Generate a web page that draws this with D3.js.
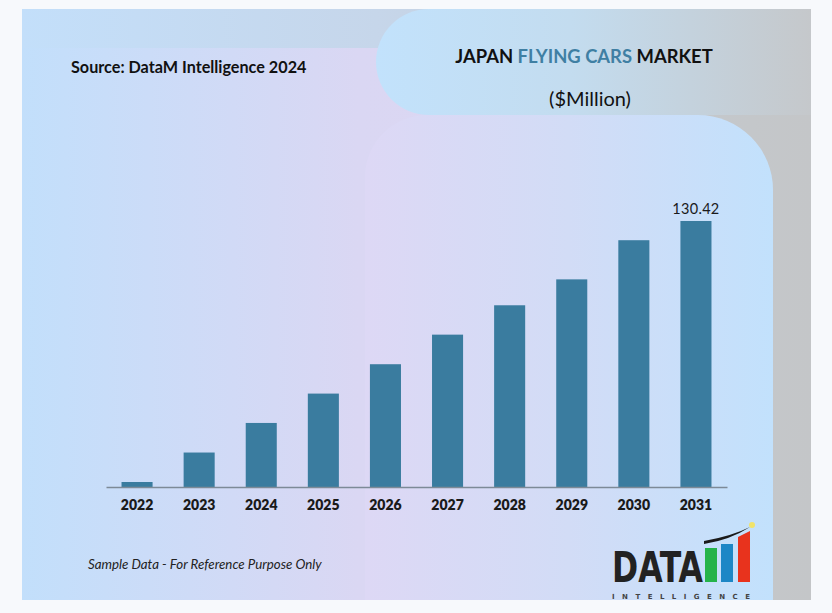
<!DOCTYPE html>
<html>
<head>
<meta charset="utf-8">
<script src="https://cdn.jsdelivr.net/npm/d3@7"></script>
<style>
  html, body { margin: 0; padding: 0; background: #f7f9fc; }
  svg { display: block; }
</style>
</head>
<body>
<svg id="chart" width="832" height="613"></svg>
<script>
const years = ["2022","2023","2024","2025","2026","2027","2028","2029","2030","2031"];
const marketValues = [2.45, 16.9, 31.4, 45.8, 60.2, 74.7, 89.1, 101.8, 121.0, 130.42];
const labeledYears = ["2031"];
const titleParts = [
  {text: "JAPAN ", color: "#111111"},
  {text: "FLYING CARS", color: "#3f7fa3"},
  {text: " MARKET", color: "#111111"}
];
const unitLabel = "($Million)";
const sourceLabel = "Source: DataM Intelligence 2024";
const noteLabel = "Sample Data - For Reference Purpose Only";

const svg = d3.select("#chart");
const defs = svg.append("defs");

function grad(id, stops, x1=0, y1=0, x2=1, y2=0) {
  const g = defs.append("linearGradient").attr("id", id)
    .attr("x1", x1).attr("y1", y1).attr("x2", x2).attr("y2", y2);
  stops.forEach(s => g.append("stop").attr("offset", s[0]).attr("stop-color", s[1]));
}
grad("panelG", [[0, "#c3dffa"], [0.45, "#c6d6ea"], [0.85, "#c4c8cc"], [1, "#c4c6c8"]]);
grad("lavG", [[0, "#c2dffb"], [0.6, "#dad7f3"], [1, "#ddd6f2"]]);
grad("titleG", [[0, "#c2e2fc"], [0.45, "#c3dcef"], [1, "#c5c8cb"]]);
grad("bigG", [[0, "#ddd8f5"], [0.5, "#d2dcf6"], [1, "#c2e1fc"]]);

// panel
svg.append("rect").attr("x", 22).attr("y", 9).attr("width", 789).attr("height", 591).attr("fill", "url(#panelG)");
// lavender backdrop
svg.append("rect").attr("x", 22).attr("y", 48).attr("width", 560).attr("height", 552).attr("fill", "url(#lavG)");

// title bubble (left rounded pill)
{
  const x0 = 376, x1 = 811, y0 = 9, y1 = 115, r = 53;
  const p = `M${x1},${y0} L${x0 + r},${y0} A${r},${r} 0 0 0 ${x0 + r},${y1} L${x1},${y1} Z`;
  svg.append("path").attr("d", p).attr("fill", "url(#titleG)");
}
// big bubble
{
  const x0 = 365, x1 = 773, y0 = 115, y1 = 600, rl = 62, rr = 75;
  const p = `M${x0},${y1} L${x0},${y0 + rl} A${rl},${rl} 0 0 1 ${x0 + rl},${y0} L${x1 - rr},${y0} A${rr},${rr} 0 0 1 ${x1},${y0 + rr} L${x1},${y1} Z`;
  svg.append("path").attr("d", p).attr("fill", "url(#bigG)");
}

// texts
svg.append("text").attr("x", 71).attr("y", 73)
  .attr("font-family", "Lato, sans-serif").attr("font-weight", 700).attr("font-size", 16.2)
  .attr("fill", "#111").text(sourceLabel);

const title = svg.append("text").attr("x", 584).attr("y", 63).attr("text-anchor", "middle")
  .attr("font-family", "Lato, sans-serif").attr("font-weight", 700).attr("font-size", 18.4);
titleParts.forEach(t => title.append("tspan").attr("fill", t.color).text(t.text));
title.style("white-space", "pre");

svg.append("text").attr("x", 590).attr("y", 106).attr("text-anchor", "middle")
  .attr("font-family", "Lato, sans-serif").attr("font-size", 20)
  .attr("fill", "#111").text(unitLabel);

svg.append("text").attr("x", 88).attr("y", 569)
  .attr("font-family", "Lato, sans-serif").attr("font-style", "italic").attr("font-size", 13.3)
  .attr("fill", "#222").text(noteLabel);

// scales
const x = d3.scaleBand().domain(years).range([106, 727]).paddingInner(0.5).paddingOuter(0.25);
const y = d3.scaleLinear().domain([0, 130.42]).range([487, 221]);

const data = years.map((yr, i) => ({year: yr, value: marketValues[i]}));

svg.append("g").selectAll("rect").data(data).join("rect")
  .attr("x", d => x(d.year)).attr("width", x.bandwidth())
  .attr("y", d => y(d.value)).attr("height", d => y(0) - y(d.value))
  .attr("fill", "#3a7c9f");

svg.append("g").selectAll("text").data(data.filter(d => labeledYears.includes(d.year))).join("text")
  .attr("x", d => x(d.year) + x.bandwidth() / 2).attr("y", d => y(d.value) - 7)
  .attr("text-anchor", "middle")
  .attr("font-family", "Lato, sans-serif").attr("font-size", 14.5).attr("letter-spacing", 0.3)
  .attr("fill", "#1a1a1a").text(d => d.value.toFixed(2));

const axis = svg.append("g").attr("transform", `translate(0,${y(0)})`)
  .call(d3.axisBottom(x).tickSize(0).tickPadding(13).tickSizeOuter(0));
axis.select(".domain").attr("stroke", "#7d8a97").attr("stroke-width", 1.5);
axis.selectAll("text").attr("font-family", "Lato, sans-serif").attr("font-weight", 800)
  .attr("font-size", 14).attr("fill", "#1a1a1a");

// logo (decorative)
const logo = svg.append("g");
logo.append("text").attr("x", 612).attr("y", 582)
  .attr("font-family", "'DejaVu Sans Condensed', 'DejaVu Sans', sans-serif").attr("font-weight", 700)
  .attr("font-size", 42).attr("textLength", 91).attr("lengthAdjust", "spacingAndGlyphs")
  .attr("fill", "#222").text("DATA");
logo.append("rect").attr("x", 705).attr("y", 548).attr("width", 12).attr("height", 34).attr("fill", "#25b34a");
logo.append("rect").attr("x", 721).attr("y", 544).attr("width", 12).attr("height", 38).attr("fill", "#1d87c6");
logo.append("path").attr("d", "M738,537 L750,531 L750,582 L738,582 Z").attr("fill", "#e8331d");
logo.append("path").attr("d", "M704,544 Q730,540 750,527 Q732,536 704,541 Z").attr("fill", "#1a1a1a");
logo.append("circle").attr("cx", 752).attr("cy", 525).attr("r", 3).attr("fill", "#f1e36a");
logo.append("text").attr("x", 612).attr("y", 598.5)
  .attr("font-family", "'DejaVu Sans', sans-serif").attr("font-weight", 700)
  .attr("font-size", 7).attr("textLength", 138).attr("lengthAdjust", "spacing")
  .attr("fill", "#444").text("INTELLIGENCE");
</script>
</body>
</html>
